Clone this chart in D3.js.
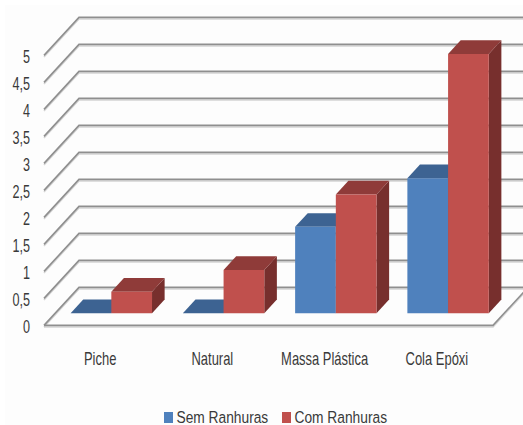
<!DOCTYPE html>
<html>
  <head>
    <meta charset="utf-8">
    <title>Sem e com ranhuras</title>
    <script src="https://cdn.jsdelivr.net/npm/d3@7/dist/d3.min.js"></script>
    <style>
      html, body { margin: 0; background: #fff; }
      svg { display: block; }
      text { font-family: "Liberation Sans", sans-serif; fill: #3a3a3a; }
    </style>
  </head>

  <body>
    <svg id="chart" width="523" height="425"></svg>

    <script>
      // values
      const categories = ["Piche", "Natural", "Massa Plástica", "Cola Epóxi"];
      const semRanhuras = [0, 0, 1.6, 2.5];
      const comRanhuras = [0.4, 0.8, 2.2, 4.8];
      const seriesNames = ["Sem Ranhuras", "Com Ranhuras"];
      const yTicks = [0, 0.5, 1, 1.5, 2, 2.5, 3, 3.5, 4, 4.5, 5];

      const svg = d3.select("#chart");
      const comma = d3.format(",");

      // scales for the front plane of the box
      const x = d3.scaleBand().domain(categories).range([44, 493]);
      const y = d3.scaleLinear().domain([0, 5]).range([325.4, 55.4]);
      const depthX = 35;
      const depthY = 38;

      // oblique projection: z = 0 is the front edge, z = 1 the back wall
      function pt(px, value, z) {
        return [px + depthX * z, y(value) - depthY * z];
      }
      function poly(points) {
        return points.map(function(p) { return p.join(","); }).join(" ");
      }
      // the labels are a tall, condensed face, so squeeze them sideways
      function squeeze(px, py, sx) {
        return "translate(" + px + "," + py + ") scale(" + sx + ",1)";
      }

      svg.append("rect")
        .attr("x", 5).attr("y", 5)
        .attr("width", 518).attr("height", 420)
        .attr("fill", "#fdfdfd");

      // gridlines: up the side wall then along the back wall
      const grid = svg.append("g").attr("fill", "none");
      [["#d4d4d4", 1.5, 1.5], ["#8f8f8f", 1.6, 0]].forEach(function(s) {
        grid.selectAll(null)
          .data(yTicks)
          .enter().append("polyline")
          .attr("stroke", s[0])
          .attr("stroke-width", s[1])
          .attr("points", function(d) {
            const a = pt(x.range()[0], d, 0);
            const b = pt(x.range()[0], d, 1);
            return poly([[a[0], a[1] + s[2]], [b[0], b[1] + s[2]], [540, b[1] + s[2]]]);
          });
      });

      // front and right edge of the floor
      const floorEdge = [
        pt(x.range()[0], 0, 0),
        pt(x.range()[1], 0, 0),
        pt(x.range()[1], 0, 1)
      ];
      svg.append("polyline")
        .attr("fill", "none")
        .attr("stroke", "#d4d4d4")
        .attr("stroke-width", 1.5)
        .attr("points", poly(floorEdge.map(function(p) { return [p[0], p[1] + 1.5]; })));
      svg.append("polyline")
        .attr("fill", "none")
        .attr("stroke", "#8f8f8f")
        .attr("stroke-width", 1.6)
        .attr("points", poly(floorEdge));

      // bars
      const barWidth = 40.7;
      const zFront = 0.32;
      const zBack = 0.68;
      const series = [
        { values: semRanhuras, front: "#4f81bd", top: "#3d6392", side: "#2f4d72" },
        { values: comRanhuras, front: "#c0504d", top: "#8f3b39", side: "#772f2d" }
      ];

      const bars = svg.append("g");
      categories.forEach(function(cat, i) {
        const mid = x(cat) + x.bandwidth() / 2;
        series.forEach(function(s, j) {
          const v = s.values[i];
          const l = mid + (j - 1) * barWidth;
          const r = l + barWidth;
          bars.append("polygon")
            .attr("fill", s.side)
            .attr("points", poly([pt(r, 0, zFront), pt(r, 0, zBack), pt(r, v, zBack), pt(r, v, zFront)]));
          bars.append("polygon")
            .attr("fill", s.top)
            .attr("points", poly([pt(l, v, zFront), pt(r, v, zFront), pt(r, v, zBack), pt(l, v, zBack)]));
          bars.append("polygon")
            .attr("fill", s.front)
            .attr("points", poly([pt(l, 0, zFront), pt(r, 0, zFront), pt(r, v, zFront), pt(l, v, zFront)]));
        });
      });

      // value axis labels
      svg.append("g")
        .selectAll("text")
        .data(yTicks)
        .enter().append("text")
        .attr("transform", function(d) { return squeeze(30, y(d) + 7.5, 0.7); })
        .attr("text-anchor", "end")
        .attr("font-size", 18)
        .text(function(d) { return comma(d).replace(".", ","); });

      // category labels
      svg.append("g")
        .selectAll("text")
        .data(categories)
        .enter().append("text")
        .attr("transform", function(d) { return squeeze(x(d) + x.bandwidth() / 2, 365, 0.72); })
        .attr("text-anchor", "middle")
        .attr("font-size", 18)
        .text(function(d) { return d; });

      // legend
      const legendX = d3.scaleOrdinal().domain(seriesNames).range([164, 282]);
      const legend = svg.append("g")
        .selectAll("g")
        .data(seriesNames)
        .enter().append("g")
        .attr("transform", function(d) { return "translate(" + legendX(d) + ",412)"; });
      legend.append("rect")
        .attr("width", 9)
        .attr("height", 11)
        .attr("fill", function(d, i) { return series[i].front; });
      legend.append("text")
        .attr("transform", squeeze(12.5, 11, 0.81))
        .attr("font-size", 17)
        .text(function(d) { return d; });
    </script>
  </body>
</html>
